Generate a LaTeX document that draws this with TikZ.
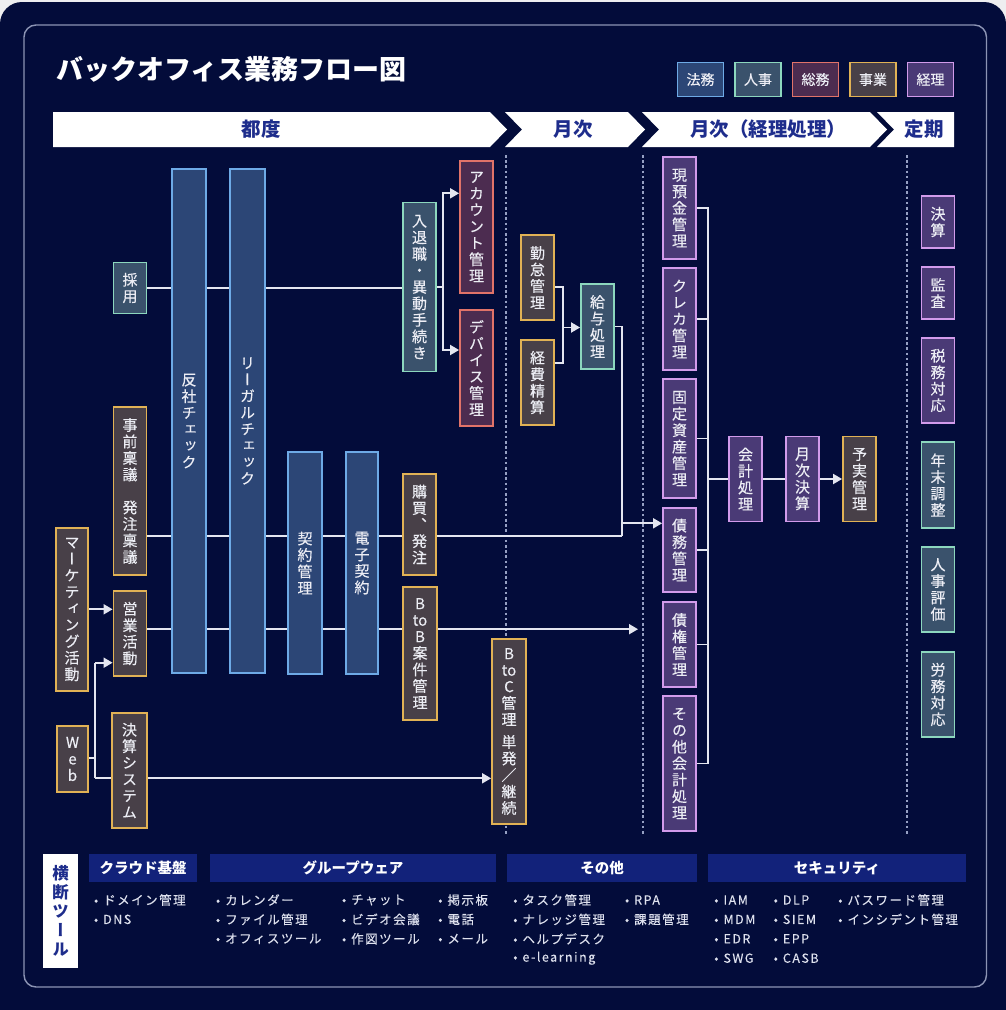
\documentclass[tikz,border=0pt]{standalone}
\usepackage{fontspec}
\setmainfont{Noto Sans CJK JP}
\newfontfamily\vjp{Noto Sans CJK JP}[RawFeature={+vert}, FakeBold=0.3]
\newfontfamily\vjpb{Noto Sans CJK JP}[RawFeature={+vert}]
\newfontfamily\medjp{Noto Sans CJK JP}[FakeBold=0.3]
\newfontfamily\listfont{Noto Sans CJK JP}[LetterSpace=12, FakeBold=0.2]
\usetikzlibrary{arrows.meta,calc}
\definecolor{pagebg}{RGB}{238,238,240}
\definecolor{navy}{RGB}{3,12,58}
\definecolor{framec}{RGB}{140,148,180}
\definecolor{sepc}{RGB}{150,160,195}
\definecolor{linec}{RGB}{228,230,240}
\definecolor{headblue}{RGB}{30,45,140}
\definecolor{hdrblue}{RGB}{18,34,122}
\definecolor{txtc}{RGB}{236,237,244}
\definecolor{itemc}{RGB}{222,225,238}
\definecolor{legalD}{RGB}{110,170,230}
\definecolor{legalF}{RGB}{44,70,118}
\definecolor{hrD}{RGB}{140,215,190}
\definecolor{hrF}{RGB}{58,82,108}
\definecolor{gaD}{RGB}{225,115,105}
\definecolor{gaF}{RGB}{76,44,80}
\definecolor{bizD}{RGB}{225,178,85}
\definecolor{bizF}{RGB}{72,64,72}
\definecolor{acctD}{RGB}{210,155,235}
\definecolor{acctF}{RGB}{74,58,118}
\pgfdeclarelayer{back}
\pgfdeclarelayer{bg}
\pgfsetlayers{back,bg,main}
\tikzset{
  box/.style={draw, line width=1.8pt, inner sep=0pt, minimum width=33pt, text=txtc,
    font=\vjp\fontsize{15}{16.5}\selectfont, align=center},
  legal/.style={box, draw=legalD, fill=legalF},
  hr/.style={box, draw=hrD, fill=hrF},
  ga/.style={box, draw=gaD, fill=gaF},
  biz/.style={box, draw=bizD, fill=bizF},
  acct/.style={box, draw=acctD, fill=acctF},
  legendbox/.style={font=\medjp\fontsize{14}{16}\selectfont, minimum width=46pt, minimum height=34pt},
  conn/.style={draw=linec, line width=1.8pt},
  arr/.style={conn, -{Triangle[length=9pt,width=10pt]}},
  sepline/.style={draw=sepc, line width=2.6pt, dash pattern=on 2.6pt off 2.6pt},
  phase/.style={font=\bfseries\fontsize{19.5}{22}\selectfont, text=headblue, inner sep=0},
  hdr/.style={fill=hdrblue, text=white, font=\bfseries\fontsize{14.5}{16}\selectfont, minimum height=28pt, inner sep=0},
  item/.style={anchor=west, inner sep=0, text=itemc, font=\listfont\fontsize{12.5}{14}\selectfont},
}
\newcommand\itm[1]{\llap{•\hspace{5pt}}#1}
\begin{document}
\begin{tikzpicture}[x=1pt,y=-1pt]
\useasboundingbox (0,0) rectangle (1006,1010);
\begin{pgfonlayer}{back}
\fill[pagebg] (0,0) rectangle (1006,1010);
\fill[navy, rounded corners=22pt] (0,2) rectangle (1006,1040);
\draw[framec, line width=1.4pt, rounded corners=12pt] (24,25) rectangle (986.5,987);
\end{pgfonlayer}

% title
\node[anchor=west, inner sep=0, text=white, font=\bfseries\fontsize{27}{30}\selectfont] (title) at (56,69.5) {バックオフィス業務フロー図};

% legend
\node[legal, legendbox] (lg1) at (700.5,79.5) {法務};
\node[hr, legendbox] (lg2) at (758,79.5) {人事};
\node[ga, legendbox] (lg3) at (815.5,79.5) {総務};
\node[biz, legendbox] (lg4) at (873,79.5) {事業};
\node[acct, legendbox] (lg5) at (930.5,79.5) {経理};

% phase band
\fill[white] (53,112) -- (490,112) -- (507,129.5) -- (490,147) -- (53,147) -- cycle;
\fill[white] (505,112) -- (628,112) -- (645,129.5) -- (628,147) -- (505,147) -- (522,129.5) -- cycle;
\fill[white] (642,112) -- (870,112) -- (887,129.5) -- (870,147) -- (642,147) -- (659,129.5) -- cycle;
\fill[white] (877,112) -- (954,112) -- (954,147) -- (877,147) -- (894,129.5) -- cycle;
\node[phase] (ph1) at (261,129.5) {都度};
\node[phase] (ph2) at (573,129.5) {月次};
\node[phase] (ph3) at (768,129.5) {月次（経理処理）};
\node[phase] (ph4) at (924,129.5) {定期};

% nodes
\node[hr, minimum height=51pt] (saiyo) at (130,288) {採\\用};
\node[legal, minimum height=504pt, minimum width=34pt] (hansha) at (189,421) {反\\社\\チ\\ェ\\ッ\\ク};
\node[legal, minimum height=504pt, minimum width=35pt] (legalc) at (247.5,421) {リ\\ー\\ガ\\ル\\チ\\ェ\\ッ\\ク};
\node[hr, minimum height=169pt] (nyutai) at (419.5,287) {入\\退\\職\\・\\異\\動\\手\\続\\き};
\node[ga, minimum height=132pt] (account) at (476.5,227) {ア\\カ\\ウ\\ン\\ト\\管\\理};
\node[ga, minimum height=116pt] (device) at (476.5,368) {デ\\バ\\イ\\ス\\管\\理};
\node[biz, minimum height=85pt] (kintai) at (537.5,277.5) {勤\\怠\\管\\理};
\node[biz, minimum height=85pt] (keihi) at (537.5,382.5) {経\\費\\精\\算};
\node[hr, minimum height=85pt] (kyuyo) at (597.5,326.5) {給\\与\\処\\理};
\node[acct, minimum height=102pt] (genyokin) at (679.5,208) {現\\預\\金\\管\\理};
\node[acct, minimum height=102pt] (kureka) at (679.5,319) {ク\\レ\\カ\\管\\理};
\node[acct, minimum height=119pt] (kotei) at (679.5,438.5) {固\\定\\資\\産\\管\\理};
\node[acct, minimum height=84pt] (saimu) at (679.5,550) {債\\務\\管\\理};
\node[acct, minimum height=85pt] (saiken) at (679.5,644.5) {債\\権\\管\\理};
\node[acct, minimum height=135pt] (sonota) at (679.5,763.5) {そ\\の\\他\\会\\計\\処\\理};
\node[acct, minimum height=85pt] (kaikei) at (745.5,479) {会\\計\\処\\理};
\node[acct, minimum height=85pt] (getsuji) at (802.5,479) {月\\次\\決\\算};
\node[biz, minimum height=85pt] (yojitsu) at (859.5,479) {予\\実\\管\\理};
\node[acct, minimum height=52pt] (kessan) at (938,222) {決\\算};
\node[acct, minimum height=52pt] (kansa) at (938,293) {監\\査};
\node[acct, minimum height=85pt] (zeimu) at (938,380.5) {税\\務\\対\\応};
\node[hr, minimum height=86pt] (nenmatsu) at (938,485) {年\\末\\調\\整};
\node[hr, minimum height=85pt] (jinji) at (938,589.5) {人\\事\\評\\価};
\node[hr, minimum height=85pt] (romu) at (938,694.5) {労\\務\\対\\応};
\node[biz, minimum height=168pt] (jizen) at (130,491) {事\\前\\稟\\議\\[16.5pt]発\\注\\稟\\議};
\node[biz, minimum height=163pt, minimum width=32pt] (mkt) at (72,609.5) {マ\\ー\\ケ\\テ\\ィ\\ン\\グ\\活\\動};
\node[biz, minimum height=85pt] (eigyo) at (130,633.5) {営\\業\\活\\動};
\node[biz, minimum height=66pt, minimum width=31pt] (web) at (72.5,759) {W\\e\\b};
\node[biz, minimum height=115pt, minimum width=35pt] (kessaisys) at (129.5,770.5) {決\\算\\シ\\ス\\テ\\ム};
\node[legal, minimum height=222pt, minimum width=34pt] (keiyaku) at (305,563) {契\\約\\管\\理};
\node[legal, minimum height=222pt, minimum width=32pt] (denshi) at (362,563) {電\\子\\契\\約};
\node[biz, minimum height=101pt] (kobai) at (419.5,524.5) {購\\買\\、\\発\\注};
\node[biz, minimum height=133pt, minimum width=34pt] (btob) at (420,653.5) {B\\to\\B\\案\\件\\管\\理};
\node[biz, minimum height=185pt, minimum width=34pt] (btoc) at (509,731.5) {B\\to\\C\\管\\理\\[6pt]単\\発\\／\\継\\続};

% junction coordinates
\coordinate (j1) at (443.3,287);
\coordinate (j2) at (563.3,327.5);
\coordinate (j3) at (621.7,535.7);
\coordinate (j3b) at (621.7,523.3);
\coordinate (rB) at (0,629.2);
\coordinate (rMk) at (0,609.3);
\coordinate (btobEnd) at (638,629.2);
\coordinate (jw) at (95.3,757.7);
\coordinate (jwUp) at (95.3,662.7);
\coordinate (jwDn) at (95.3,778.3);
\coordinate (bus) at (707.7,0);

\begin{pgfonlayer}{bg}
\draw[sepline] (506,155) -- (506,836);
\draw[sepline] (643,155) -- (643,836);
\draw[sepline] (907,155) -- (907,836);
\draw[conn] (saiyo.east) -- (saiyo.east -| nyutai.west);
\draw[conn] (nyutai.east) -- (j1);
\draw[arr] (j1) |- ($(account.west)+(0,-33.7)$);
\draw[arr] (j1) |- ($(device.west)+(0,-18)$);
\draw[conn] ($(kintai.east)+(0,9.2)$) -| (j2);
\draw[conn] ($(keihi.east)+(0,-19.2)$) -| (j2);
\draw[arr] (j2) -- (j2 -| kyuyo.west);
\draw[conn] (kyuyo.east) -| (j3);
\draw[conn] (jizen.east |- j3) -- (kobai.west |- j3);
\draw[conn] (kobai.east |- j3) -- (j3);
\draw[arr] (j3b) -- (j3b -| saimu.west);
\draw[conn] (eigyo.east |- rB) -- (btob.west |- rB);
\draw[arr] (btob.east |- rB) -- (btobEnd);
\draw[arr] (mkt.east |- rMk) -- (eigyo.west |- rMk);
\draw[conn] (web.east |- jw) -- (jw);
\draw[conn] (jwUp) -- (jwDn);
\draw[arr] (jwUp) -- (jwUp -| eigyo.west);
\draw[conn] (jwDn) -- (jwDn -| kessaisys.west);
\draw[arr] (kessaisys.east |- jwDn) -- (jwDn -| btoc.west);
\draw[conn] (genyokin.east) -| (bus |- sonota.east) -- (sonota.east);
\foreach \n in {kureka,kotei,saimu,saiken} \draw[conn] (\n.east) -- (\n.east -| bus);
\draw[conn] (kaikei.west -| bus) -- (kaikei.west);
\draw[conn] (kaikei.east) -- (getsuji.west);
\draw[arr] (getsuji.east) -- (yojitsu.west);
\end{pgfonlayer}

% cross-cutting tools
\node[fill=white, minimum width=35pt, minimum height=114pt, inner sep=0, text=headblue, align=center,
  font=\vjpb\bfseries\fontsize{16.5}{19}\selectfont] (oudan) at (60.5,911) {横\\断\\ツ\\ー\\ル};
\node[hdr, minimum width=108pt] (hcloud) at (143,868) {クラウド基盤};
\node[hdr, minimum width=286pt] (hgw) at (353,868) {グループウェア};
\node[hdr, minimum width=190pt] (hoth) at (602,868) {その他};
\node[hdr, minimum width=258pt] (hsec) at (837,868) {セキュリティ};

\foreach [count=\i] \t in {ドメイン管理,DNS}
  \node[item] (c1-\i) at (103,{900+(\i-1)*19.4}) {\itm{\t}};
\foreach [count=\i] \t in {カレンダー,ファイル管理,オフィスツール}
  \node[item] (g1-\i) at (225,{900+(\i-1)*19.4}) {\itm{\t}};
\foreach [count=\i] \t in {チャット,ビデオ会議,作図ツール}
  \node[item] (g2-\i) at (351,{900+(\i-1)*19.4}) {\itm{\t}};
\foreach [count=\i] \t in {掲示板,電話,メール}
  \node[item] (g3-\i) at (447.3,{900+(\i-1)*19.4}) {\itm{\t}};
\foreach [count=\i] \t in {タスク管理,ナレッジ管理,ヘルプデスク,e-learning}
  \node[item] (o1-\i) at (522.3,{900+(\i-1)*19.4}) {\itm{\t}};
\foreach [count=\i] \t in {RPA,課題管理}
  \node[item] (o2-\i) at (634,{900+(\i-1)*19.4}) {\itm{\t}};
\foreach [count=\i] \t in {IAM,MDM,EDR,SWG}
  \node[item] (s1-\i) at (723.3,{900+(\i-1)*19.4}) {\itm{\t}};
\foreach [count=\i] \t in {DLP,SIEM,EPP,CASB}
  \node[item] (s2-\i) at (782.7,{900+(\i-1)*19.4}) {\itm{\t}};
\foreach [count=\i] \t in {パスワード管理,インシデント管理}
  \node[item] (s3-\i) at (847.3,{900+(\i-1)*19.4}) {\itm{\t}};
\end{tikzpicture}
\end{document}
